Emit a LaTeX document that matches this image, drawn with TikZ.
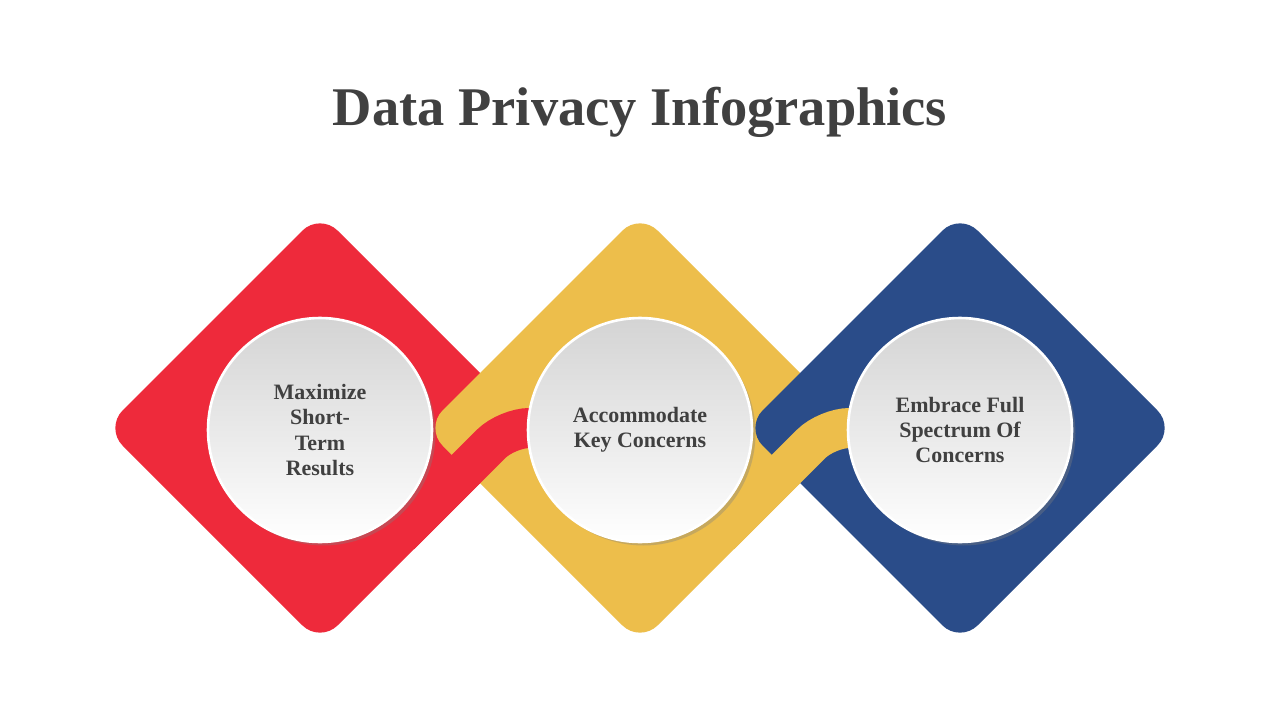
\documentclass[tikz,border=0pt]{standalone}
\usepackage{fontspec}
\setmainfont{Liberation Serif}
\usetikzlibrary{shadows}
\definecolor{pvred}{HTML}{EE2A3B}
\definecolor{pvyellow}{HTML}{EDBE4B}
\definecolor{pvblue}{HTML}{2A4C89}
\definecolor{pvtext}{HTML}{404040}
\tikzset{
  tile/.style={rounded corners=0.5cm},
  band/.style={line width=0.8cm,rounded corners=0.45cm},
  disc/.style={circle,minimum size=4.48cm,draw=white,line width=1.5pt,top color=black!17,bottom color=white,
    drop shadow={shadow xshift=2pt,shadow yshift=-2pt,opacity=0.35},align=center,text=pvtext,
    font=\fontsize{12.5}{14.5}\selectfont\bfseries}
}
\begin{document}
\begin{tikzpicture}[x=0.02cm,y=-0.02cm]
\useasboundingbox[fill=white](0,0) rectangle (1280,720);
\node[text=pvtext,font=\fontsize{31}{36}\selectfont\bfseries] (title) at (640,112) {Data Privacy Infographics};
% tiles
\fill[tile,pvred](320,213)--(535,428)--(320,643)--(105,428)--cycle;
\fill[tile,pvyellow](640,213)--(855,428)--(640,643)--(425,428)--cycle;
\draw[band,pvred](400,535)--(507,428)--(600,428);
\fill[tile,pvblue](960,213)--(1175,428)--(960,643)--(745,428)--cycle;
\draw[band,pvyellow](720,535)--(827,428)--(920,428);
% circles
\node[disc] (c1) at (320,430) {Maximize\\Short-\\Term\\Results};
\node[disc] (c2) at (640,430) {Accommodate\\Key Concerns};
\node[disc] (c3) at (960,430) {Embrace Full\\Spectrum Of\\Concerns};
\end{tikzpicture}
\end{document}
